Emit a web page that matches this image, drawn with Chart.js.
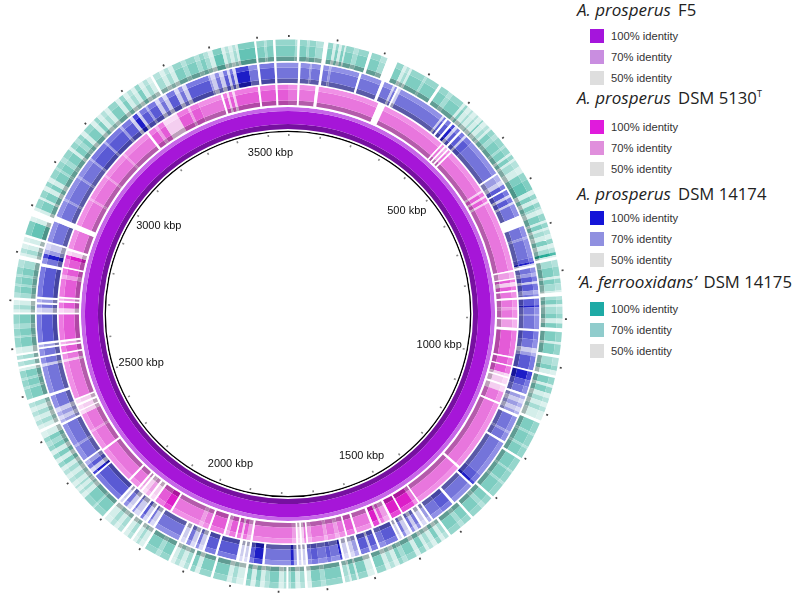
<!DOCTYPE html>
<html>

<head>
    <title>Circular genome comparison</title>
    <script src="https://cdn.jsdelivr.net/npm/chart.js@4"></script>

    <style type="text/css">
        html,
        body {
            margin: 0;
            background-color: #fff;
            overflow: hidden;
        }

        #wrap {
            position: absolute;
            left: 8px;
            top: 34px;
            width: 560px;
            height: 560px;
        }

        canvas {
            filter: blur(0.4px);
        }

        .title {
            position: absolute;
            left: 577px;
            font-family: "Open Sans", sans-serif;
            font-size: 16.7px;
            line-height: 20px;
            color: #222;
            white-space: nowrap;
        }

        .title i {
            font-size: 17px;
            margin-right: 3px;
        }

        .title sup {
            font-size: 9px;
            line-height: 0;
        }

        .swatch {
            position: absolute;
            left: 590px;
            width: 14px;
            height: 14px;
        }

        .label {
            position: absolute;
            left: 611px;
            font-family: "Liberation Sans", sans-serif;
            font-size: 11.2px;
            line-height: 14px;
            color: #333;
            white-space: nowrap;
        }
    </style>
</head>

<body>
    <div id="wrap"><canvas id="chartRings"></canvas></div>
    <div id="legend"></div>

    <script>
        const genomeKbp = 3565;

        // [start kbp, tone]; a run lasts until the next start
        // tone: 0 no hit, 1 pale, 2 light, 3 70%, 4 deep, 5 100%
        const pinkRuns = [[0,3],[24,0],[29,3],[69,0],[77,3],[230,0],[248,3],[416,0],[420,3],[426,0],[430,2],[436,0],[440,3],[446,0],[450,3],
            [569,1],[574,4],[584,1],[589,4],[599,1],[604,3],[782,0],[786,2],[802,0],[805,4],[812,1],[822,4],[832,0],[836,3],[851,0],[856,3],[874,2],[881,3],[901,0],[905,2],[926,0],[933,4],[998,0],[1002,4],[1020,0],[1023,4],[1042,1],[1049,0],[1053,1],[1069,0],[1074,1],[1089,3],[1116,0],[1121,3],
            [1303,0],[1309,3],[1436,0],[1440,3],[1450,5],[1485,0],[1489,5],[1515,0],[1521,2],[1535,4],[1544,1],[1549,5],[1564,0],[1570,3],[1609,0],[1614,4],[1634,0],[1638,3],[1653,2],[1663,3],[1683,2],[1691,3],[1723,2],[1733,0],[1737,3],[1742,1],[1748,0],[1752,1],[1758,0],[1762,2],[1772,3],
            [1871,0],[1876,2],[1886,4],[1896,1],[1901,4],[1911,0],[1915,4],[1931,2],[1940,0],[1945,4],[1980,0],[1985,3],[2000,2],[2010,3],[2084,0],[2089,5],[2109,4],[2133,0],[2138,1],[2148,0],[2153,2],[2163,1],[2173,0],[2178,2],[2183,0],[2188,3],[2213,0],[2218,3],[2312,0],[2317,3],[2366,2],[2371,3],[2416,1],[2426,0],[2429,1],[2440,0],[2445,1],[2455,0],[2459,3],
            [2554,1],[2560,3],[2574,0],[2578,4],[2594,0],[2598,2],[2604,0],[2609,4],[2673,0],[2677,1],[2688,4],[2703,0],[2707,2],[2713,0],[2717,4],[2762,2],[2772,4],[2788,0],[2792,4],[2812,5],[2822,1],[2833,0],[2839,3],
            [2888,0],[2901,3],[2970,2],[2975,3],[3039,2],[3044,3],[3109,2],[3114,3],[3188,0],[3194,4],[3213,2],[3221,4],[3237,1],[3277,4],[3307,2],[3313,4],[3336,3],[3396,0],[3401,4],[3411,1],[3416,4],[3425,1],[3431,4],[3490,0],[3495,4],[3534,0],[3539,4]];

        const blueRuns = [[0,3],[24,0],[29,3],[50,2],[54,3],[75,0],[81,3],[94,2],[99,3],[164,0],[169,3],[217,0],[224,3],[245,1],[250,3],[255,0],[259,1],[265,3],
            [376,1],[381,4],[386,0],[391,4],[401,0],[406,5],[413,1],[420,4],[428,0],[433,4],[443,1],[448,4],[465,3],[554,0],[558,2],[574,1],[584,4],[594,0],[598,4],[611,1],[617,4],[629,1],[634,3],[663,0],[688,3],[713,2],[718,3],
            [762,4],[771,5],[776,1],[780,0],[785,3],[797,2],[805,4],[817,1],[822,4],[837,2],[846,3],[851,0],[856,4],[871,5],[876,3],[891,2],[896,3],[926,0],[931,4],[950,3],[970,1],[980,2],[988,4],[1020,0],[1024,5],[1044,4],[1059,3],[1076,0],[1081,2],[1089,1],[1099,2],[1109,1],[1119,2],[1126,0],[1132,3],[1168,2],[1173,3],[1193,0],[1198,3],
            [1287,4],[1307,5],[1314,0],[1319,3],[1372,0],[1378,4],[1406,3],[1433,0],[1437,2],[1445,0],[1450,1],[1460,0],[1465,3],[1473,1],[1481,3],[1488,0],[1493,1],[1503,3],[1510,0],[1515,1],[1521,0],[1525,4],[1554,3],[1569,0],[1574,4],[1589,1],[1594,4],[1614,0],[1619,2],[1629,1],[1638,0],[1643,1],[1653,0],[1658,5],[1663,3],[1683,4],[1693,3],[1713,4],[1728,3],[1737,0],[1742,1],[1748,0],[1752,1],[1758,0],[1762,2],[1769,5],[1777,3],
            [1836,0],[1841,5],[1861,4],[1871,0],[1876,1],[1883,0],[1887,1],[1894,0],[1901,4],[1945,0],[1950,4],[1975,0],[1980,1],[1990,3],[1997,0],[2000,1],[2010,3],[2020,0],[2024,1],[2034,0],[2039,3],[2099,0],[2104,1],[2114,3],[2119,0],[2124,1],[2133,4],[2140,0],[2144,1],[2158,3],[2163,0],[2168,1],[2178,3],[2188,0],[2192,1],[2198,0],[2203,4],[2277,0],[2281,5],[2287,1],[2297,4],[2307,2],[2317,0],[2321,3],[2356,2],[2361,3],[2414,0],[2419,2],[2426,1],[2435,2],[2445,1],[2455,3],[2485,0],[2491,3],
            [2554,1],[2560,3],[2574,0],[2578,3],[2594,0],[2598,2],[2604,0],[2609,4],[2673,0],[2677,1],[2688,3],[2696,0],[2700,2],[2708,0],[2713,4],[2782,0],[2789,3],[2802,5],[2812,2],[2822,1],[2837,0],[2841,3],[2888,0],[2901,3],
            [2940,2],[2945,3],[3000,2],[3005,3],[3049,2],[3054,4],[3099,2],[3104,4],[3148,2],[3154,4],[3178,1],[3186,5],[3198,1],[3205,4],[3222,2],[3227,4],[3247,1],[3257,3],[3267,1],[3277,4],[3297,1],[3307,3],[3317,1],[3327,4],[3381,2],[3386,1],[3396,3],[3406,1],[3416,4],[3425,1],[3431,4],[3438,1],[3445,5],[3475,3],[3495,0],[3500,4],[3534,0],[3539,3]];

        const tealRuns = [[0,3],[15,2],[20,0],[25,3],[40,2],[45,3],[59,2],[75,0],[84,3],[95,1],[101,3],[107,1],[113,3],[119,1],[122,3],[139,2],[149,3],[171,0],[177,3],[198,2],[211,0],[233,3],[248,1],[255,2],[262,1],[267,3],[297,2],[302,3],[331,0],[337,3],[356,2],[366,3],
            [394,1],[400,3],[406,1],[416,2],[421,1],[431,2],[436,1],[446,3],[450,1],[460,2],[468,1],[473,3],[485,2],[495,3],[515,2],[520,3],[535,1],[540,3],[549,1],[554,2],[569,1],[584,3],[600,4],[624,1],[634,3],[644,1],[653,3],[663,2],[668,1],[678,3],[693,1],[698,3],[708,1],[713,2],[723,1],[733,3],[743,1],[752,2],[762,5],[768,1],[772,0],[778,2],[792,3],[812,1],[817,3],[827,2],[842,1],[846,0],[854,2],[861,3],[871,1],[876,2],[891,3],[901,1],[911,3],[921,0],[929,3],[950,1],[955,3],[977,0],[983,2],[1000,3],[1010,1],[1020,0],[1025,3],[1040,1],[1046,3],[1059,1],[1069,2],[1079,1],[1089,2],[1099,1],[1118,0],[1124,3],[1148,2],[1153,3],[1178,2],[1183,3],[1205,0],[1210,3],[1238,2],[1242,3],[1267,2],[1272,3],[1304,0],[1309,3],[1327,2],[1337,3],[1363,0],[1368,3],[1386,2],[1396,3],[1422,0],[1427,2],[1436,1],[1445,3],[1455,1],[1465,2],[1475,1],[1482,3],[1495,1],[1505,3],[1525,2],[1535,3],[1544,1],[1554,2],[1564,1],[1574,3],[1594,0],[1599,1],[1614,3],[1634,1],[1638,3],[1649,1],[1653,2],[1663,0],[1668,3],[1703,2],[1713,3],[1733,1],[1742,0],[1747,2],[1757,1],[1767,3],[1777,2],[1782,0],[1786,2],[1792,1],[1802,3],[1822,2],[1832,1],[1841,3],[1851,1],[1861,3],[1871,0],[1876,1],[1891,2],[1901,1],[1911,3],[1940,0],[1945,3],[1970,1],[1980,3],[1990,0],[1995,2],[2005,1],[2015,2],[2025,1],[2034,0],[2039,3],[2059,2],[2069,3],[2094,0],[2099,1],[2109,2],[2116,1],[2124,0],[2129,2],[2138,1],[2148,0],[2153,2],[2163,1],[2173,2],[2183,1],[2198,0],[2203,3],[2228,2],[2232,3],[2257,1],[2267,2],[2274,1],[2282,2],[2287,1],[2297,2],[2307,1],[2317,2],[2327,1],[2336,3],[2346,1],[2356,3],[2366,1],[2376,3],[2386,2],[2396,3],[2406,1],[2420,0],[2426,1],[2435,2],[2445,1],[2455,2],[2465,1],[2475,2],[2485,0],[2493,3],[2515,2],[2520,3],[2534,2],[2539,3],[2554,1],[2560,0],[2564,2],[2574,0],[2578,2],[2587,0],[2591,1],[2604,3],[2624,2],[2628,3],[2643,2],[2653,3],[2673,0],[2677,1],[2683,2],[2693,1],[2703,0],[2708,2],[2718,3],[2732,2],[2737,3],[2752,2],[2757,3],[2772,2],[2788,0],[2796,1],[2802,2],[2812,1],[2822,0],[2826,1],[2836,0],[2841,4],[2871,1],[2881,0],[2894,1],[2901,3],[2920,1],[2925,3],[2940,1],[2950,3],[2960,1],[2970,3],[2990,2],[2995,3],[3010,2],[3020,3],[3039,1],[3046,3],[3059,2],[3069,3],[3079,1],[3089,3],[3109,1],[3119,3],[3128,1],[3138,2],[3148,1],[3158,3],[3178,1],[3188,3],[3198,1],[3208,2],[3218,1],[3227,3],[3237,1],[3247,2],[3257,1],[3267,0],[3272,2],[3287,1],[3297,2],[3307,1],[3317,3],[3336,2],[3346,3],[3366,2],[3376,3],[3386,2],[3396,1],[3406,4],[3425,1],[3432,2],[3440,1],[3448,2],[3455,1],[3460,4],[3495,0],[3499,3],[3515,2],[3520,3],[3534,0],[3539,3]];

        const tickKbp = [0,100,200,300,400,500,600,700,800,900,1000,1100,1200,1300,1400,1500,1600,1700,1800,1900,2000,2100,2200,2300,2400,2500,2600,2700,2800,2900,3000,3100,3200,3300,3400,3500];
        const labelKbp = [500,1000,1500,2000,2500,3000,3500];
        const labelText = ["500 kbp","1000 kbp","1500 kbp","2000 kbp","2500 kbp","3000 kbp","3500 kbp"];

        const legendTitles = ["<i>A. prosperus</i> F5", "<i>A. prosperus</i> DSM 5130<sup>T</sup>", "<i>A. prosperus</i> DSM 14174", "<i>‘A. ferrooxidans’</i> DSM 14175"];
        const legendLevels = ["100% identity", "70% identity", "50% identity"];
        const legendColors = [["#a515dc","#c98ee0","#dedede"], ["#e01bdc","#e08fdc","#dedede"], ["#1414d8","#9090e0","#dedede"], ["#1eaaa5","#90cccc","#dedede"]];

        const toneAlpha = [0, .2, .42, .6, .72, 1];

        function shade(full, tone, alphaScale, darken) {
            if (tone == 0) return "#fff";
            let a = toneAlpha[tone] * alphaScale;
            let c = full.map(v => Math.round((255 - a * (255 - v)) * darken));
            return "rgb(" + c.join(",") + ")";
        }

        function ringBand(runs, full, weight, alphaScale, darken) {
            let data = [], colors = [];
            for (let i = 0; i < runs.length; i++) {
                let end = i + 1 < runs.length ? runs[i + 1][0] : genomeKbp;
                data.push(end - runs[i][0]);
                colors.push(shade(full, runs[i][1], alphaScale, darken));
            }
            return { data: data, backgroundColor: colors, weight: weight };
        }

        function solid(color, weight) {
            return { data: [genomeKbp], backgroundColor: [color], weight: weight };
        }

        function tickBand(size, color, weight) {
            let data = [], colors = [];
            tickKbp.forEach((t, i) => {
                let next = i + 1 < tickKbp.length ? tickKbp[i + 1] : genomeKbp;
                data.push(size, next - t - size);
                colors.push(color, "rgba(0,0,0,0)");
            });
            return { data: data, backgroundColor: colors, weight: weight };
        }

        const tealFull = [40, 172, 152], blueFull = [30, 30, 205], pinkFull = [224, 30, 205];

        const rings = [
            solid("rgba(0,0,0,0)", 1),
            tickBand(3.5, "#444", 2),
            solid("rgba(0,0,0,0)", 2.5),
            ringBand(tealRuns, tealFull, 6, .82, 1),
            ringBand(tealRuns, tealFull, 11, 1, 1),
            ringBand(tealRuns, tealFull, 4.5, 1, .76),
            solid("#fff", 1.5),
            ringBand(blueRuns, blueFull, 5, .82, 1),
            ringBand(blueRuns, blueFull, 11, 1, .97),
            ringBand(blueRuns, blueFull, 4.5, 1, .74),
            solid("#fff", 1.5),
            ringBand(pinkRuns, pinkFull, 5, .82, 1),
            ringBand(pinkRuns, pinkFull, 11, 1, .98),
            ringBand(pinkRuns, pinkFull, 4.5, 1, .76),
            solid("#fff", 2),
            solid("#c665e8", 4),
            solid("#a616d8", 13),
            solid("#7610a0", 5),
            solid("#fff", 1.5),
            solid("#000", 1.5),
            solid("rgba(0,0,0,0)", 2),
            tickBand(5, "#888", 2)
        ];

        const kbpLabels = {
            id: "kbpLabels",
            afterDraw(chart) {
                let arc = chart.getDatasetMeta(0).data[0];
                let ctx = chart.ctx;
                ctx.save();
                ctx.font = "11px 'Liberation Sans'";
                ctx.fillStyle = "#111";
                ctx.textAlign = "center";
                ctx.textBaseline = "middle";
                labelKbp.forEach((k, i) => {
                    let a = k / genomeKbp * 2 * Math.PI;
                    ctx.fillText(labelText[i], arc.x + 154 * Math.sin(a), arc.y - 162 * Math.cos(a));
                });
                ctx.restore();
            }
        };

        window.onload = function() {
            new Chart(document.getElementById("chartRings"), {
                type: "doughnut",
                data: { datasets: rings },
                plugins: [kbpLabels],
                options: {
                    responsive: false,
                    animation: false,
                    events: [],
                    cutout: "63.6%",
                    borderWidth: 0,
                    elements: { arc: { borderWidth: 0 } },
                    layout: { padding: 0 },
                    plugins: { legend: { display: false }, tooltip: { enabled: false } }
                }
            });

            let titleTop = [0, 88, 184, 272];
            let swatchTop = [[29, 50, 71], [120, 141, 162], [211, 232, 253], [302, 323, 344]];
            let html = "";
            legendTitles.forEach((t, i) => {
                html += '<div class="title" style="top:' + titleTop[i] + 'px">' + t + "</div>";
                legendLevels.forEach((l, j) => {
                    html += '<div class="swatch" style="top:' + swatchTop[i][j] + "px;background:" + legendColors[i][j] + '"></div>';
                    html += '<div class="label" style="top:' + swatchTop[i][j] + 'px">' + l + "</div>";
                });
            });
            document.getElementById("legend").innerHTML = html;
        };
    </script>
    <script>
        let c = document.getElementById("chartRings");
        c.width = 560;
        c.height = 560;
    </script>
</body>

</html>
